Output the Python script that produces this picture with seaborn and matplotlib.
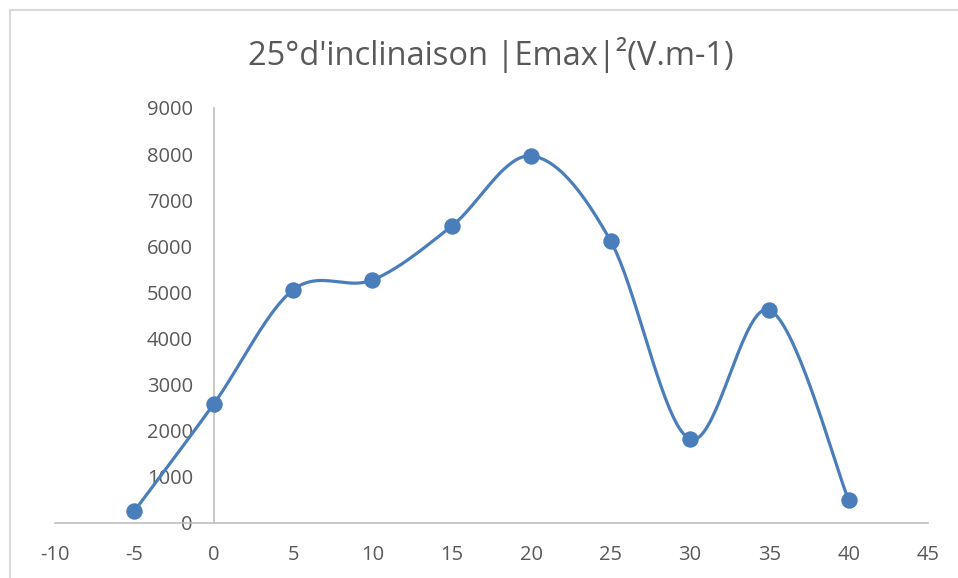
import numpy as np
import pandas as pd
import matplotlib
matplotlib.use("Agg")
import matplotlib.pyplot as plt
import seaborn as sns
from matplotlib.patches import Rectangle


# data
angle = [-5, 0, 5, 10, 15, 20, 25, 30, 35, 40]
emax2 = [260, 2580, 5055, 5270, 6440, 7960, 6120, 1820, 4620, 500]

x_ticks = list(range(-10, 50, 5))
y_ticks = list(range(0, 10000, 1000))

TITLE = "25°d'inclinaison |Emax|²(V.m-1)"
BLUE = "#4A7EBB"
GREY_TXT = "#595959"
GREY_AX = "#BFBFBF"


def smooth_curve(x, y, n=40):
    """
    Excel-like smoothed line: cubic Bezier segments with
    Catmull-Rom control points.
    """
    pts = np.column_stack([x, y]).astype(float)
    padded = np.vstack([pts[0], pts, pts[-1]])
    out = []
    t = np.linspace(0, 1, n)[:, None]
    for i in range(len(pts) - 1):
        p0, p1, p2, p3 = padded[i], padded[i + 1], padded[i + 2], padded[i + 3]
        c1 = p1 + (p2 - p0) / 6
        c2 = p2 - (p3 - p1) / 6
        seg = ((1 - t) ** 3) * p1 + 3 * ((1 - t) ** 2) * t * c1 \
            + 3 * (1 - t) * t ** 2 * c2 + t ** 3 * p2
        out.append(seg if i == 0 else seg[1:])
    seg = np.vstack(out)
    return pd.DataFrame({"x": seg[:, 0], "y": seg[:, 1]})


df = pd.DataFrame({"angle": angle, "emax2": emax2})
curve = smooth_curve(angle, emax2)

sns.set_style("white")
plt.rcParams["font.family"] = ["Open Sans", "DejaVu Sans"]
plt.rcParams["axes.unicode_minus"] = False

fig = plt.figure(figsize=(9.58, 5.78), dpi=100)

# chart area border (cut off at right and bottom in the reference)
fig.patches.append(Rectangle(
    (9.5 / 958, -0.05), 1.0, 1.05 - 9.5 / 578,
    transform=fig.transFigure, facecolor="none", edgecolor="#D9D9D9",
    linewidth=1.5, zorder=-1))

ax = fig.add_axes([55 / 958, 1 - 523 / 578, (928 - 55) / 958, (523 - 108) / 578])
ax.set_facecolor("none")

sns.lineplot(data=curve, x="x", y="y", sort=False, estimator=None,
             color=BLUE, linewidth=2.3, ax=ax, zorder=3)
sns.scatterplot(data=df, x="angle", y="emax2", color=BLUE, s=140,
                edgecolor=BLUE, linewidth=0, ax=ax, zorder=4)

ax.set_xlim(-10, 45)
ax.set_ylim(0, 9000)
ax.set_xticks(x_ticks)
ax.set_yticks(y_ticks)
ax.set_xlabel("")
ax.set_ylabel("")

for side in ["top", "right"]:
    ax.spines[side].set_visible(False)
ax.spines["left"].set_position(("data", 0))
ax.spines["bottom"].set_position(("data", 0))
for side in ["left", "bottom"]:
    ax.spines[side].set_color(GREY_AX)
    ax.spines[side].set_linewidth(1.2)

ax.tick_params(axis="both", length=0, labelsize=14.5, labelcolor=GREY_TXT)
ax.tick_params(axis="x", pad=16)
ax.tick_params(axis="y", pad=15)

fig.text(491 / 958, 1 - 55 / 578, TITLE, ha="center", va="center",
         fontsize=23.5, color=GREY_TXT)

fig.savefig("out.png", dpi=100)
